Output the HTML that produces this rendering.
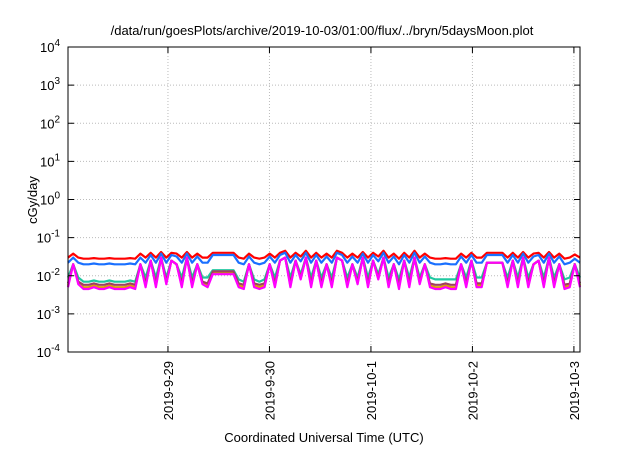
<!DOCTYPE html>
<html><head><meta charset="utf-8"><style>
body{margin:0;background:#fff;font-family:"Liberation Sans",sans-serif}
svg text{font-family:"Liberation Sans",sans-serif;fill:#000}
</style></head><body>
<svg id="chart" width="640" height="448" viewBox="0 0 640 448">
<text x="322" y="35" font-size="13" text-anchor="middle">/data/run/goesPlots/archive/2019-10-03/01:00/flux/../bryn/5daysMoon.plot</text>
<text transform="translate(37,200) rotate(-90)" font-size="13" text-anchor="middle">cGy/day</text>
<text x="324" y="442" font-size="13" text-anchor="middle">Coordinated Universal Time (UTC)</text>
<g id="grid"></g><g id="series"></g><g id="axes"></g>
</svg>
<script>
const yExps=[-4,-3,-2,-1,0,1,2,3,4];
const xTickLabels=["2019-9-29","2019-9-30","2019-10-1","2019-10-2","2019-10-3"];
const xTickDays=[1,2,3,4,5];
const magenta=[5,20,6,4.5,4.5,5,4.5,4.5,5,4.5,
4.5,4.5,5,4.5,20,5,25,5,30,6,
25,20,5,30,5,20,6,5,11,11,
11,11,11,5,4.5,20,5,4.5,5,20,
5,25,30,5,25,8,30,5,25,5,
20,5,30,25,5,20,6,30,5,25,
8,30,5,20,4.5,25,5,30,6,20,
5,4.5,4.5,5,4.5,4.5,20,5,25,5,
5,22,22,22,22,5,25,5,30,5,
20,25,5,30,5,20,4.5,5,20,5];
const orange=[5.5,20,6.5,5,5,5.5,5,5,5.5,5,
5,5,5.5,5,20,5.5,25,5.5,30,6.5,
25,20,5.5,30,5.5,20,6.5,5.5,12,12,
12,12,12,5.5,5,20,5.5,5,5.5,20,
5.5,25,30,5.5,25,8.5,30,5.5,25,5.5,
20,5.5,30,25,5.5,20,6.5,30,5.5,25,
8.5,30,5.5,20,5,25,5.5,30,6.5,20,
5.5,5,5,5.5,5,5,20,5.5,25,5.5,
5.5,22,22,22,22,5.5,25,5.5,30,5.5,
20,25,5.5,30,5.5,20,5,5.5,20,5.5];
const brown=[6.3,20,7,5.8,5.8,6.3,5.8,5.8,6.3,5.8,
5.8,5.8,6.3,5.8,20,6.3,25,6.3,30,7,
25,20,6.3,30,6.3,20,7,6.3,13,13,
13,13,13,6.3,5.8,20,6.3,5.8,6.3,20,
6.3,25,30,6.3,25,9,30,6.3,25,6.3,
20,6.3,30,25,6.3,20,7,30,6.3,25,
9,30,6.3,20,5.8,25,6.3,30,7,20,
6.3,5.8,5.8,6.3,5.8,5.8,20,6.3,25,6.3,
6.3,22,22,22,22,6.3,25,6.3,30,6.3,
20,25,6.3,30,6.3,20,5.8,6.3,20,6.3];
const teal=[9,20,9,7,7,7.5,7,7,7.5,7,
7,7,7.5,7,20,9,25,9,30,9,
25,20,9,30,9,20,9,9,14,14,
14,14,14,8,7,20,8,7,8,20,
9,25,30,9,25,11,30,9,25,9,
20,9,30,25,9,20,9,30,9,25,
11,30,9,20,8,25,9,30,9,20,
9,8,8,8,8,8,20,9,25,9,
9,22,22,22,22,9,25,9,30,9,
20,25,9,30,9,20,8,9,20,9];
const blue=[22,30,22,20,20,21,20,20,21,20,
20,20,21,20,30,22,35,22,38,22,
35,32,22,38,22,32,22,22,35,35,
35,35,35,22,20,32,22,20,22,32,
22,35,40,22,35,24,40,22,35,22,
32,22,40,35,22,32,22,38,22,35,
24,40,22,32,20,35,22,40,22,32,
22,20,20,21,20,20,32,22,35,22,
22,35,35,35,35,22,35,22,38,22,
32,35,22,38,22,32,20,22,28,22];
const red=[30,38,30,28,28,29,28,28,29,28,
28,28,29,28,38,30,40,30,42,30,
40,38,30,42,30,38,30,30,40,40,
40,40,40,30,28,38,30,28,30,38,
30,40,45,30,40,32,45,30,40,30,
38,30,45,40,30,38,30,42,30,40,
32,45,30,38,28,40,30,45,30,38,
30,28,28,29,28,28,38,30,40,30,
30,40,40,40,40,30,40,30,42,30,
38,40,30,42,30,38,28,30,36,30];
const L=68,R=580,T=47,B=352,d0=0.015,d1=5.06;
const xS=d=>L+(d-d0)/(d1-d0)*(R-L);
const yS=v=>B-(Math.log10(v)+4)/8*(B-T);
const NS="http://www.w3.org/2000/svg";
function mk(t,a,p){const e=document.createElementNS(NS,t);for(const k in a)e.setAttribute(k,a[k]);p.appendChild(e);return e;}
const grid=document.getElementById('grid'),axes=document.getElementById('axes'),ser=document.getElementById('series');
yExps.forEach(ex=>{const y=yS(Math.pow(10,ex));
 if(ex>-4&&ex<4){const g=mk('line',{x1:L,x2:R,y1:y,y2:y,stroke:'#bbb','stroke-dasharray':'1,2'},grid);
 }
 const t=mk('line',{x1:L,x2:L+6,y1:y,y2:y,stroke:'#000'},axes);
 const t2=mk('line',{x1:R-6,x2:R,y1:y,y2:y,stroke:'#000'},axes);
 const tx=mk('text',{x:L-8,y:y+5,'font-size':'13','text-anchor':'end'},axes);
 
 tx.textContent='10';const s=mk('tspan',{dy:'-6','font-size':'10'},tx);s.textContent=String(ex);});
xTickDays.forEach((d,i)=>{const x=xS(d);
 const g=mk('line',{x1:x,x2:x,y1:T,y2:B,stroke:'#bbb','stroke-dasharray':'1,2'},grid);
 
 const t=mk('line',{x1:x,x2:x,y1:B-6,y2:B,stroke:'#000'},axes);
 const t2=mk('line',{x1:x,x2:x,y1:T,y2:T+6,stroke:'#000'},axes);
 const tx=mk('text',{transform:`translate(${x+5},${B+9}) rotate(-90)`,'font-size':'13','text-anchor':'end'},axes);
 tx.textContent=xTickLabels[i];});
const fr=mk('rect',{x:L,y:T,width:R-L,height:B-T,fill:'none',stroke:'#000'},axes);

const seriesList=[["red-series",red,"#ff0000"],["blue-series",blue,"#1a70ff"],["teal-series",teal,"#20c8a0"],["orange-series",orange,"#e0a000"],["brown-series",brown,"#a04060"],["magenta-series",magenta,"#ff00ff"]];
seriesList.forEach(([n,arr,c])=>{
 const pts=arr.map((v,i)=>xS(d0+i*(d1-d0)/(arr.length-1)).toFixed(1)+','+yS(v*1e-3).toFixed(1)).join(' ');
 const p=mk('polyline',{points:pts,fill:'none',stroke:c,'stroke-width':'2.2','stroke-linejoin':'round'},ser);
 });
</script>
</body></html>
